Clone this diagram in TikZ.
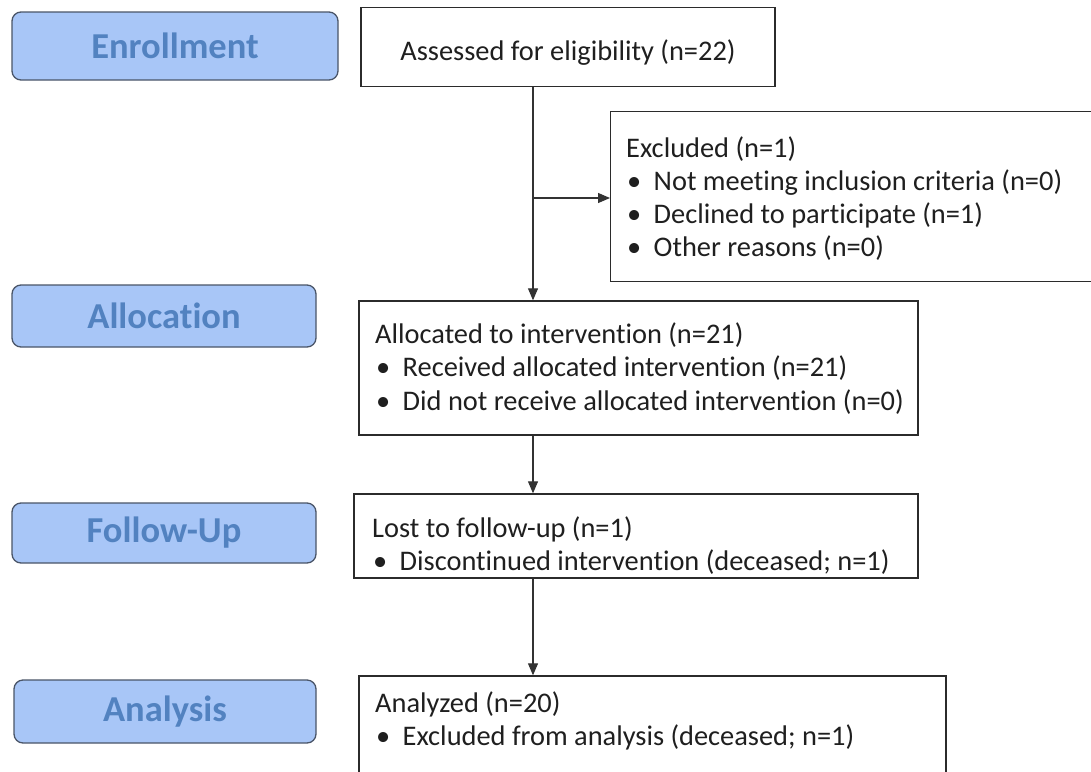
\documentclass[tikz,border=0pt]{standalone}
\usepackage{fontspec}
\setmainfont{Carlito}[Ligatures=NoCommon]
\usetikzlibrary{arrows.meta}
\definecolor{labfill}{HTML}{A8C6F7}
\definecolor{labtext}{HTML}{5282C0}
\definecolor{labdraw}{HTML}{4A5568}
\definecolor{boxdraw}{HTML}{2B2B2B}
\tikzset{
  phase/.style={draw=labdraw, line width=1.3pt, fill=labfill, rounded corners=9pt,
    text=labtext, font=\fontsize{36.5}{40}\selectfont\bfseries, inner sep=0pt},
  box/.style={draw=boxdraw, line width=1.4pt, fill=white, inner sep=0pt},
  txt/.style={inner sep=0pt, anchor=base west, text=black!88, font=\fontsize{28.4}{33.3}\selectfont},
  flow/.style={draw=black!80, line width=1.1pt, -{Triangle[length=12pt,width=10pt]}},
}
\newcommand{\bul}{\makebox[27.5pt][l]{\hspace{1pt}•}}
\newcommand{\lines}[1]{\begin{tabular}[t]{@{}l@{}}#1\end{tabular}}
\begin{document}
\begin{tikzpicture}[x=1pt,y=-1pt]
\useasboundingbox[fill=white] (0,0) rectangle (1091,771);
\clip (0,0) rectangle (1091,771);
% phase labels
\node[phase, minimum width=326pt, minimum height=68pt] (enr) at (175,46) {Enrollment};
\node[phase, minimum width=304pt, minimum height=62pt] (all) at (164,316) {Allocation};
\node[phase, minimum width=304pt, minimum height=60pt] (fol) at (164,533) {Follow-Up};
\node[phase, minimum width=302pt, minimum height=63pt] (ana) at (165,711.5) {Analysis};
% boxes
\node[box, minimum width=414pt, minimum height=79pt] (assess) at (568,47) {};
\node[txt, anchor=base] (assesstxt) at (568,60.7) {Assessed for eligibility (n=22)};
\node[box, minimum width=490pt, minimum height=170pt] (excl) at (855.7,196.7) {};
\node[txt] (excltxt) at (626,157) {\lines{Excluded (n=1)\\\bul Not meeting inclusion criteria (n=0)\\\bul Declined to participate (n=1)\\\bul Other reasons (n=0)}};
\node[box, minimum width=559pt, minimum height=134pt] (alloc) at (638.5,368) {};
\node[txt] (alloctxt) at (375,343.5) {\lines{Allocated to intervention (n=21)\\\bul Received allocated intervention (n=21)\\\bul Did not receive allocated intervention (n=0)}};
\node[box, minimum width=564pt, minimum height=84pt] (lost) at (636,536) {};
\node[txt] (losttxt) at (372,537) {\lines{Lost to follow-up (n=1)\\\bul Discontinued intervention (deceased; n=1)}};
\node[box, minimum width=587pt, minimum height=140pt] (anly) at (652.5,746) {};
\node[txt] (anlytxt) at (375,712) {\lines{Analyzed (n=20)\\\bul Excluded from analysis (deceased; n=1)}};
% connectors
\coordinate (j) at (533,198);
\draw[flow] (assess.south -| j) -- (alloc.north -| j);
\draw[flow] (j) -- (excl.west |- j);
\draw[flow] (alloc.south -| j) -- (lost.north -| j);
\draw[flow] (lost.south -| j) -- (anly.north -| j);
\end{tikzpicture}
\end{document}
